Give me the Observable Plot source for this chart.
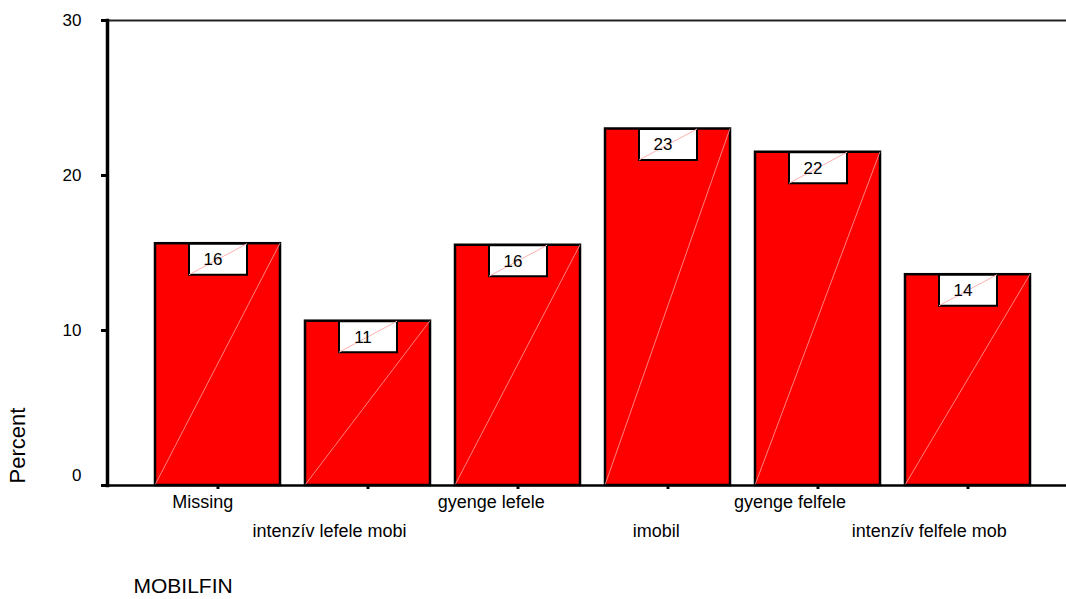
<!DOCTYPE html>
<html><head><meta charset="utf-8">
<script src="https://cdn.jsdelivr.net/npm/d3@7"></script>
<script src="https://cdn.jsdelivr.net/npm/@observablehq/plot@0.6"></script>
<style>html,body{margin:0;padding:0;background:#fff;overflow:hidden}</style>
</head><body><div id="chart"></div>
<script>
const categories = ["Missing", "intenzív lefele mobi", "gyenge lefele", "imobil", "gyenge felfele", "intenzív felfele mob"];
const percents = [15.6, 10.6, 15.5, 23.0, 21.5, 13.6];
const valueLabels = ["16", "11", "16", "23", "22", "14"];
const yTicks = [0, 10, 20, 30];
const xTitle = "MOBILFIN";
const yTitle = "Percent";

const data = categories.map((c, i) => ({category: c, percent: percents[i], label: valueLabels[i]}));
const evenCats = categories.filter((c, i) => i % 2 === 0);
const oddCats = categories.filter((c, i) => i % 2 === 1);

const boxSymbol = {draw(ctx) { ctx.rect(-29, 0, 58, 31); }};
const boxDiag = {draw(ctx) { ctx.moveTo(-29, 31); ctx.lineTo(29, 0); }};

function barDiagonals(index, scales, values, dimensions, context, next) {
  const g = next(index, scales, values, dimensions, context);
  const sel = d3.select(g);
  const rects = sel.selectAll("rect").nodes();
  rects.forEach(r => {
    const x = +r.getAttribute("x"), y = +r.getAttribute("y");
    const w = +r.getAttribute("width"), h = +r.getAttribute("height");
    sel.append("line")
      .attr("x1", x).attr("y1", y + h).attr("x2", x + w).attr("y2", y)
      .attr("stroke", "#ffa0a0").attr("stroke-width", 0.8).attr("fill", "none");
  });
  return g;
}

const plot = Plot.plot({
  width: 1066, height: 599,
  marginTop: 20, marginBottom: 114, marginLeft: 107, marginRight: 0,
  style: {fontFamily: "'Liberation Sans', Arial, sans-serif", fontSize: "18px", color: "#000", background: "#fff"},
  x: {type: "band", domain: categories, paddingInner: 0.167, paddingOuter: 0.279, align: 0.576, axis: null, label: null},
  y: {domain: [0, 30], axis: null, label: null},
  marks: [
    Plot.ruleY([30], {stroke: "#222", strokeWidth: 2}),
    Plot.barY(data, {x: "category", y: "percent", fill: "#ff0000", stroke: "#000", strokeWidth: 2.5, render: barDiagonals}),
    Plot.dot(data, {x: "category", y: "percent", symbol: boxSymbol, fill: "#fff", stroke: "#000", strokeWidth: 2}),
    Plot.dot(data, {x: "category", y: "percent", symbol: boxDiag, fill: "none", stroke: "#ffb0b0", strokeWidth: 1}),
    Plot.text(data, {x: "category", y: "percent", text: "label", dy: 16, dx: -5, fontSize: 17, fill: "#000"}),
    Plot.frame({anchor: "left", stroke: "#000", strokeWidth: 3.5}),
    Plot.ruleY([0], {stroke: "#000", strokeWidth: 2.5}),
    Plot.axisY(yTicks.filter(d => d !== 0), {tickSize: 6, tickPadding: 20, strokeWidth: 3, fontSize: 17, label: null}),
    Plot.axisY([0], {tickSize: 6, strokeWidth: 3, tickFormat: () => "", label: null}),
    Plot.axisY([0], {tickSize: 0, tickPadding: 26, dy: -10, fontSize: 17, label: null}),
    Plot.axisX(evenCats, {tickSize: 4, strokeWidth: 3, tickPadding: 6, fontSize: 18, label: null}),
    Plot.axisX(oddCats, {tickSize: 4, strokeWidth: 3, tickPadding: 35, fontSize: 18, label: null}),
    Plot.text([yTitle], {text: d => d, frameAnchor: "bottom-left", rotate: -90, textAnchor: "start", dx: -83, dy: -2, fontSize: 22}),
    Plot.text([xTitle], {text: d => d, frameAnchor: "bottom-left", textAnchor: "start", lineAnchor: "bottom", dx: 26, dy: 107, fontSize: 21})
  ]
});

document.getElementById("chart").append(plot);
d3.select(plot).selectAll("text").each(function() {
  if (categories.includes(this.textContent)) {
    const len = this.getComputedTextLength();
    d3.select(this).attr("dx", -0.25 * len);
  }
});
</script>
</body></html>
